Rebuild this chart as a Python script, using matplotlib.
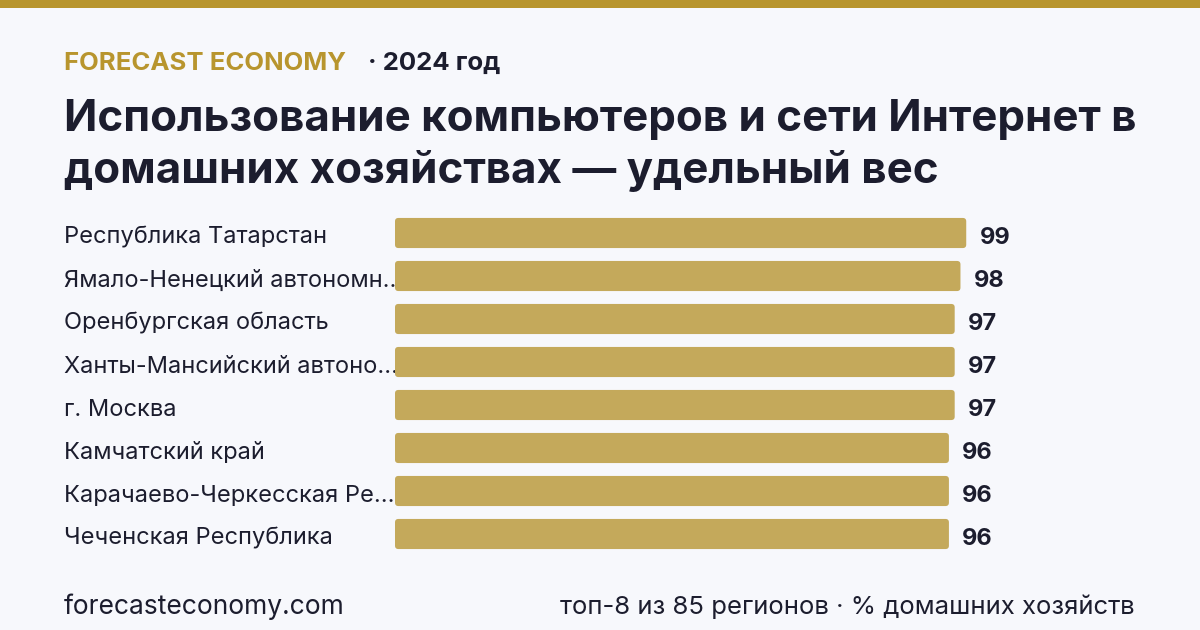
import matplotlib
matplotlib.use("Agg")
import matplotlib.pyplot as plt
from matplotlib.patches import Rectangle, FancyBboxPatch

plt.rcParams['font.family'] = ['Inter', 'DejaVu Sans']

# данные
regions = [
    "Республика Татарстан",
    "Ямало-Ненецкий автономн...",
    "Оренбургская область",
    "Ханты-Мансийский автоно...",
    "г. Москва",
    "Камчатский край",
    "Карачаево-Черкесская Ре...",
    "Чеченская Республика",
]
values = [99, 98, 97, 97, 97, 96, 96, 96]
value_labels = ["99", "98", "97", "97", "97", "96", "96", "96"]

BG = "#f7f8fc"
GOLD = "#b8952e"
BAR = "#c4a95b"
DARK = "#1c1d2e"

W, H = 1200, 630
fig = plt.figure(figsize=(W / 100, H / 100), dpi=100, facecolor=BG)

# верхняя полоса
fig.patches.append(Rectangle((0, 1 - 8 / H), 1, 8 / H, transform=fig.transFigure,
                             facecolor=GOLD, edgecolor="none"))

# шапка
fig.text(64 / W, 1 - 70 / H, "FORECAST ECONOMY", color=GOLD, fontsize=18.5,
         fontweight="bold", va="baseline")
fig.text(368 / W, 1 - 70 / H, "· 2024 год", color=DARK, fontsize=18.5,
         fontweight="bold", va="baseline")
fig.text(64 / W, 1 - 131 / H, "Использование компьютеров и сети Интернет в",
         color=DARK, fontsize=31.6, fontweight="bold", va="baseline")
fig.text(64 / W, 1 - 183 / H, "домашних хозяйствах — удельный вес",
         color=DARK, fontsize=31.6, fontweight="bold", va="baseline")

# бары
ax = fig.add_axes([395 / W, 1 - 555.5 / H, 577 / W, 344 / H])
ax.set_facecolor("none")
ypos = list(range(len(values)))
bars = ax.barh(ypos, values, height=0.70, color=BAR, zorder=2)
ax.set_xlim(0, 100)
ax.set_ylim(len(values) - 0.5, -0.5)
ax.axis("off")

# скруглённые углы
for b in bars:
    b.set_visible(False)
    ax.add_patch(FancyBboxPatch((b.get_x(), b.get_y()), b.get_width(), b.get_height(),
                                boxstyle="round,pad=0,rounding_size=0.6",
                                mutation_aspect=0.13, facecolor=BAR,
                                edgecolor="none", zorder=2))

for y, name, v, lab in zip(ypos, regions, values, value_labels):
    ax.text(-331 / 5.77, y + 0.11, name, color=DARK, fontsize=17, va="center",
            ha="left", zorder=1, clip_on=False)
    ax.text(v + 2.3, y + 0.11, lab, color=DARK, fontsize=17, fontweight="bold",
            va="center", ha="left", zorder=3, clip_on=False)

# подвал
fig.text(64 / W, 1 - 614 / H, "forecasteconomy.com", color=DARK, fontsize=19,
         va="baseline")
fig.text(1135 / W, 1 - 614 / H, "топ-8 из 85 регионов · % домашних хозяйств",
         color=DARK, fontsize=18.5, va="baseline", ha="right")

fig.savefig("out.png", dpi=100, facecolor=BG)
